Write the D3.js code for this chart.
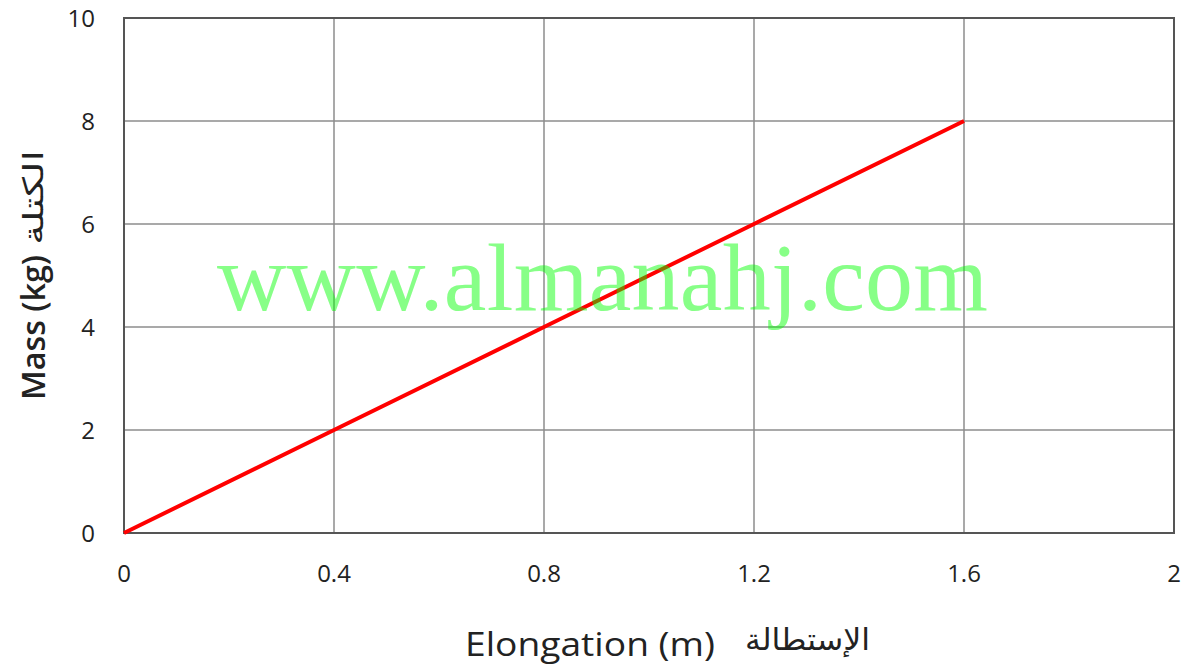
<!DOCTYPE html>
<html>
<head>
<meta charset="utf-8">
<script src="https://cdn.jsdelivr.net/npm/d3@7"></script>
<style>
  body { margin: 0; background: #fff; }
  svg text { fill: #222; }
</style>
</head>
<body>
<svg id="chart" width="1182" height="671"></svg>
<script>
const elongation = [0, 0.4, 0.8, 1.2, 1.6]
const mass = [0, 2, 4, 6, 8]
const xTicks = [0, 0.4, 0.8, 1.2, 1.6, 2]
const yTicks = [0, 2, 4, 6, 8, 10]

const width = 1182
const height = 671
const margin = { top: 18, right: 8, bottom: 138, left: 124 }
const sans = '"Open Sans", "Noto Sans", sans-serif'
const arabic = '"Noto Sans", "DejaVu Sans", sans-serif'

const svg = d3.select('#chart')

const xScale = d3.scaleLinear().domain([0, 2]).range([margin.left, width - margin.right])
const yScale = d3.scaleLinear().domain([0, 10]).range([height - margin.bottom, margin.top])

/* grid */
svg.append('g')
  .selectAll('line')
  .data(xTicks)
  .join('line')
  .attr('x1', (d) => xScale(d)).attr('x2', (d) => xScale(d))
  .attr('y1', yScale(0)).attr('y2', yScale(10))
  .attr('stroke', '#8c8c8c').attr('stroke-width', 1.5)

svg.append('g')
  .selectAll('line')
  .data(yTicks)
  .join('line')
  .attr('x1', xScale(0)).attr('x2', xScale(2))
  .attr('y1', (d) => yScale(d)).attr('y2', (d) => yScale(d))
  .attr('stroke', '#8c8c8c').attr('stroke-width', 1.5)

/* frame */
svg.append('rect')
  .attr('x', xScale(0)).attr('y', yScale(10))
  .attr('width', xScale(2) - xScale(0)).attr('height', yScale(0) - yScale(10))
  .attr('fill', 'none').attr('stroke', '#555').attr('stroke-width', 2)

/* tick labels */
svg.append('g')
  .selectAll('text')
  .data(yTicks)
  .join('text')
  .attr('x', xScale(0) - 29)
  .attr('y', (d) => yScale(d))
  .attr('dy', '0.36em')
  .attr('text-anchor', 'end')
  .style('font-family', sans)
  .style('font-size', '24px')
  .text((d) => d)

svg.append('g')
  .selectAll('text')
  .data(xTicks)
  .join('text')
  .attr('x', (d) => xScale(d))
  .attr('y', yScale(0) + 49)
  .attr('text-anchor', 'middle')
  .style('font-family', sans)
  .style('font-size', '24px')
  .text((d) => d)

/* line */
svg.append('path')
  .datum(elongation.map((d, i) => [d, mass[i]]))
  .attr('fill', 'none')
  .attr('stroke', '#ff0000')
  .attr('stroke-width', 4)
  .attr('d', d3.line().x((d) => xScale(d[0])).y((d) => yScale(d[1])))

/* axis titles */
svg.append('text')
  .attr('x', 465).attr('y', 656)
  .attr('textLength', 250)
  .attr('lengthAdjust', 'spacingAndGlyphs')
  .style('font-family', sans)
  .style('font-size', '33px')
  .text('Elongation (m)')

svg.append('text')
  .attr('x', 745).attr('y', 650)
  .attr('textLength', 125)
  .attr('lengthAdjust', 'spacingAndGlyphs')
  .style('font-family', arabic)
  .style('font-size', '30px')
  .text('الإستطالة')

svg.append('text')
  .attr('transform', 'translate(45, 400) rotate(-90)')
  .attr('textLength', 145)
  .attr('lengthAdjust', 'spacingAndGlyphs')
  .style('font-family', sans)
  .style('font-size', '33px')
  .style('font-weight', 600)
  .text('Mass  (kg)')

svg.append('text')
  .attr('transform', 'translate(43, 245) rotate(-90)')
  .attr('textLength', 95)
  .attr('lengthAdjust', 'spacingAndGlyphs')
  .style('font-family', arabic)
  .style('font-size', '28px')
  .text('الكتلة')

/* watermark */
svg.append('text')
  .attr('x', 217).attr('y', 310)
  .attr('textLength', 771)
  .style('font-family', '"Liberation Serif", "DejaVu Serif", serif')
  .style('font-size', '96px')
  .style('fill', '#00ff00')
  .style('fill-opacity', 0.47)
  .text('www.almanahj.com')
</script>
</body>
</html>
